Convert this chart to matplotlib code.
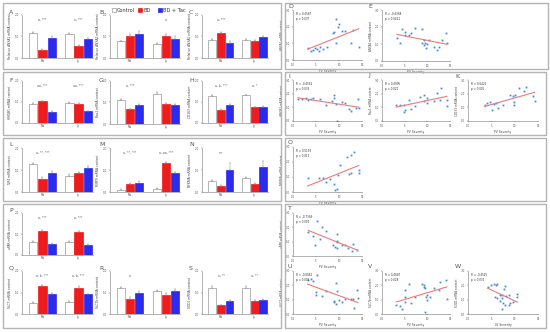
import numpy as np
import matplotlib
matplotlib.use("Agg")
import matplotlib.pyplot as plt
from matplotlib.patches import Rectangle

# bar panels: [Control, BD, BD + Tac] for the two cell groups
groups = ["Mo", "Ly"]
series = ["Control", "BD", "BD + Tac"]
colors = ["white", "#ee1c1c", "#2b2bee"]

A_mo = [1.15, 0.38, 0.95]; A_ly = [1.10, 0.57, 0.90]
B_mo = [0.77, 1.03, 1.12]; B_ly = [0.65, 1.00, 0.90]
C_mo = [0.82, 1.15, 0.72]; C_ly = [0.82, 0.80, 0.97]
F_mo = [0.92, 1.03, 0.54]; F_ly = [0.97, 0.92, 0.55]
G_mo = [1.10, 0.68, 0.88]; G_ly = [1.41, 0.93, 0.90]
H_mo = [1.28, 0.62, 0.85]; H_ly = [1.31, 0.74, 0.78]
L_mo = [1.26, 0.60, 0.88]; L_ly = [0.72, 0.85, 1.10]
M_mo = [0.10, 0.35, 0.41]; M_ly = [0.15, 1.30, 0.85]
N_mo = [0.49, 0.26, 1.00]; N_ly = [0.62, 0.38, 1.12]
P_mo = [0.62, 1.14, 0.52]; P_ly = [0.62, 1.10, 0.48]
Q_mo = [0.52, 1.29, 0.95]; Q_ly = [0.57, 1.22, 0.91]
R_mo = [1.23, 0.72, 0.98]; R_ly = [1.06, 0.88, 1.08]
S_mo = [1.23, 0.40, 0.60]; S_ly = [1.23, 0.62, 0.65]

A_err = [0.06, 0.03, 0.05]; B_err = [0.04, 0.10, 0.12]; C_err = [0.05, 0.06, 0.05]
F_err = [0.05, 0.03, 0.04]; G_err = [0.06, 0.04, 0.05]; H_err = [0.04, 0.03, 0.04]
L_err = [0.08, 0.06, 0.09]; M_err = [0.02, 0.05, 0.08]; N_err = [0.07, 0.05, 0.30]
P_err = [0.04, 0.06, 0.04]; Q_err = [0.03, 0.06, 0.04]; R_err = [0.04, 0.08, 0.07]
S_err = [0.06, 0.04, 0.05]

# significance marks above groups
A_sig = ["a, ***", "a, ***"]; B_sig = ["", "a"]; C_sig = ["a, ***", ""]
F_sig = ["aa, ***", "aa, ***"]; G_sig = ["a, ***", ""]; H_sig = ["a, b, ***", "a, *"]
L_sig = ["a, **, ***", ""]; M_sig = ["a, **, ***", "a, aa, ***"]; N_sig = ["***", ""]
P_sig = ["a, ***", "a, ***"]; Q_sig = ["a, b, ***", "a, b, ***"]; R_sig = ["a", ""]
S_sig = ["a, **", "a, **"]

# scatter panels (x = severity score, y = relative mRNA content)
D_x = [3.16, 3.82, 4.41, 5.15, 4.78, 5.74, 5.88, 6.47, 7.35, 8.68, 8.82, 9.41, 9.71, 9.93, 9.41, 10.66, 11.4, 12.65, 13.1, 14.3]
D_y = [0.74, 0.56, 0.60, 0.64, 0.74, 0.54, 0.80, 0.64, 0.80, 1.60, 1.66, 2.44, 2.00, 2.16, 1.04, 1.76, 1.76, 1.04, 1.80, 0.80]
E_x = [3.31, 3.9, 4.41, 5.0, 5.0, 5.88, 6.4, 7.2, 8.82, 9.19, 8.82, 9.34, 9.56, 9.71, 9.93, 10.3, 11.4, 12.1, 12.5, 13.2, 14.2, 14.3]
E_y = [1.38, 1.03, 1.86, 1.68, 1.52, 1.52, 1.62, 1.97, 1.91, 1.26, 1.03, 0.93, 1.03, 0.79, 0.99, 1.22, 0.83, 0.63, 0.83, 1.26, 1.66, 1.07]
I_x = [1.1, 2.06, 2.79, 3.31, 3.82, 4.41, 5.88, 7.13, 8.46, 8.82, 8.97, 9.41, 9.56, 10.66, 11.4, 12.1, 12.6, 13.6, 14.1, 14.3]
I_y = [1.61, 1.61, 1.66, 1.54, 1.61, 1.66, 1.61, 1.17, 1.46, 1.66, 1.90, 1.22, 0.0, 1.41, 1.29, 0.88, 0.73, 0.93, 1.61, 0.98]
J_x = [3.16, 3.9, 4.78, 5.0, 4.93, 5.88, 6.4, 7.2, 8.46, 9.19, 9.34, 9.93, 9.93, 11.4, 12.1, 12.9, 13.1, 14.3, 14.3]
J_y = [1.15, 1.20, 1.15, 0.84, 0.67, 1.51, 0.91, 1.13, 1.73, 1.92, 1.49, 1.68, 1.32, 1.44, 2.04, 1.56, 2.45, 1.56, 1.08]
K_x = [3.57, 4.07, 4.64, 5.14, 5.5, 5.93, 6.43, 7.5, 8.93, 9.64, 9.79, 10.0, 10.9, 12.1, 12.5, 13.9, 14.3, 9.79]
K_y = [1.15, 1.32, 1.39, 0.77, 1.25, 1.32, 0.96, 1.15, 1.92, 1.80, 1.15, 1.87, 2.45, 2.21, 2.52, 1.80, 1.49, 1.39]
O_x = [3.16, 5.74, 6.47, 7.2, 7.94, 8.97, 9.19, 9.56, 9.71, 12.1, 12.6, 14.3, 14.3, 10.3, 11.8, 13.2, 12.5]
O_y = [0.96, 0.92, 0.96, 0.69, 0.86, 0.54, 0.15, 0.21, 1.14, 1.18, 1.29, 1.29, 1.44, 1.82, 2.36, 2.68, 2.46]
T_x = [5.15, 3.33, 6.24, 7.1, 9.63, 4.42, 5.87, 9.5, 9.63, 4.78, 8.6, 9.13, 9.5, 10.6, 11.3, 12.0, 13.0, 14.0, 12.8]
T_y = [2.44, 1.70, 2.05, 1.77, 1.53, 1.42, 1.19, 1.05, 0.95, 0.77, 0.77, 0.65, 0.58, 0.77, 0.77, 0.58, 0.82, 0.42, 0.35]
U_x = [3.16, 3.82, 4.41, 5.15, 5.0, 5.0, 6.25, 7.13, 9.41, 9.56, 8.82, 8.97, 9.41, 9.93, 10.66, 11.4, 12.65, 13.1, 13.97, 14.1, 13.2]
U_y = [2.35, 2.42, 2.28, 2.70, 1.55, 1.36, 1.27, 1.59, 2.19, 1.59, 0.90, 0.81, 0.67, 0.97, 0.81, 1.04, 1.08, 1.02, 1.66, 1.13, 0.44]
V_x = [3.16, 3.9, 4.41, 5.0, 5.0, 5.0, 5.88, 6.4, 7.2, 8.82, 9.19, 9.34, 9.56, 9.71, 9.93, 9.93, 10.66, 11.4, 9.56, 12.5, 12.9, 14.2, 14.3]
V_y = [0.62, 0.58, 0.35, 0.81, 1.20, 1.66, 2.12, 0.74, 1.20, 2.12, 2.05, 1.89, 1.78, 1.20, 0.97, 1.36, 1.20, 1.82, 0.12, 1.66, 2.24, 2.40, 1.08]
W_x = [4.19, 4.88, 5.58, 5.93, 6.14, 5.79, 6.14, 6.77, 6.77, 7.19, 7.33, 7.47, 7.67, 7.88, 8.02, 8.23, 8.72, 8.86, 9.07, 9.56, 10.5, 10.6, 7.19]
W_y = [1.89, 2.05, 2.12, 2.05, 2.12, 1.20, 1.13, 1.36, 0.90, 1.36, 1.13, 0.74, 1.73, 1.96, 0.62, 1.27, 1.36, 0.62, 0.74, 0.85, 1.43, 1.20, 0.35]

D_stat = ["R = 0.4587", "p = 0.037"]; E_stat = ["R = -0.4368", "p = 0.0421"]
I_stat = ["R = -0.4562", "p = 0.033"]; J_stat = ["R = 0.4905", "p = 0.021"]
K_stat = ["R = 0.6421", "p = 0.001"]; O_stat = ["R = 0.5193", "p = 0.013"]
T_stat = ["R = -0.7369", "p < 0.001"]; U_stat = ["R = -0.6042", "p = 0.003"]
V_stat = ["R = 0.4687", "p = 0.028"]; W_stat = ["R = -0.4525", "p = 0.035"]

W_FIG, H_FIG = 550, 332
fig = plt.figure(figsize=(5.5, 3.32), dpi=100)
fig.patch.set_facecolor("white")

def px_axes(x0, y0, x1, y1):
    return fig.add_axes([x0 / W_FIG, 1 - y1 / H_FIG, (x1 - x0) / W_FIG, (y1 - y0) / H_FIG])

def frame(x0, y0, x1, y1):
    fig.add_artist(Rectangle((x0 / W_FIG, 1 - y1 / H_FIG), (x1 - x0) / W_FIG, (y1 - y0) / H_FIG,
                             transform=fig.transFigure, fill=False, ec="#b4b4b4", lw=1.0))

def letter(x, y, s):
    fig.text(x / W_FIG, 1 - y / H_FIG, s, fontsize=4.5, color="#555555", ha="left", va="center")

def style(ax):
    for k in ["top", "right"]:
        ax.spines[k].set_visible(False)
    for k in ["left", "bottom"]:
        ax.spines[k].set_linewidth(0.4)
        ax.spines[k].set_color("#777777")
    ax.tick_params(length=1, width=0.3, labelsize=2, pad=1, colors="#555555")
    ax.set_facecolor("white")

def bar_panel(box, mo, ly, err, sig, label):
    ax = px_axes(*box)
    pos1 = [0, 1, 2]
    pos2 = [3.9, 4.9, 5.9]
    for vals, pos in [(mo, pos1), (ly, pos2)]:
        for i in range(3):
            ax.bar(pos[i], vals[i], width=0.9, color=colors[i],
                   edgecolor="#999999" if i == 0 else colors[i], linewidth=0.5)
            ax.errorbar(pos[i], vals[i], yerr=[[0], [err[i]]], fmt="none",
                        ecolor="#888888", elinewidth=0.35, capsize=0.6, capthick=0.35)
    for s, c in zip(sig, [1, 4.9]):
        if s:
            ax.text(c, 1.75, s, fontsize=2.2, ha="center", va="center", color="#555555")
    ax.set_xlim(-1.2, 6.45)
    ax.set_ylim(0, 2)
    ax.set_yticks([0, 1, 2])
    ax.set_yticklabels(["0.0", "1.0", "2.0"])
    ax.set_xticks([1, 4.9])
    ax.set_xticklabels(groups)
    ax.set_ylabel(label, fontsize=2.2, labelpad=2, color="#444444")
    style(ax)
    ax.tick_params(axis="x", length=0)
    return ax

def scatter_panel(box, x, y, stat, ylabel, xlabel="PV Severity"):
    ax = px_axes(*box)
    ax.plot(x, y, "s", ms=1.3, color="#4a8ad4", mew=0)
    k, b = np.polyfit(x, y, 1)
    xs = np.array([min(x), max(x)])
    ax.plot(xs, k * xs + b, color="#f07878", lw=0.8)
    ax.text(0.04, 0.96, stat[0] + "\n" + stat[1], transform=ax.transAxes,
            fontsize=2, va="top", ha="left", color="#333333", linespacing=1.3)
    ax.set_xlim(0, 15)
    ax.set_ylim(0, 3)
    ax.set_xticks([0, 5, 10, 15])
    ax.set_xticklabels(["0.0", "5", "10", "15"])
    ax.set_yticks([0, 1, 2, 3])
    ax.set_yticklabels(["0.0", "1.0", "2.0", "3.0"])
    ax.set_xlabel(xlabel, fontsize=2.2, labelpad=1.5, color="#444444")
    ax.set_ylabel(ylabel, fontsize=2, labelpad=1.5, color="#444444")
    style(ax)
    return ax

# outer frames
frame(3, 3, 281, 69); frame(285, 3, 548, 69)
frame(3, 72, 281, 135); frame(285, 72, 546, 135)
frame(3, 138, 281, 201); frame(285, 138, 546, 201)
frame(3, 204, 281, 328); frame(285, 204, 546, 328)

# legend (row 1)
leg_x = [112, 138, 158]
for lx, name, c in zip(leg_x, series, colors):
    fig.add_artist(Rectangle((lx / W_FIG, 1 - 12 / H_FIG), 4 / W_FIG, 4 / H_FIG,
                             transform=fig.transFigure, fc=c, ec="#999999" if c == "white" else c, lw=0.5))
    fig.text((lx + 5) / W_FIG, 1 - 10 / H_FIG, name, fontsize=3.6, va="center", ha="left", color="#333333")

# row 1
bar_panel((22, 15, 93, 58), A_mo, A_ly, A_err, A_sig, "Relative ANXA1 mRNA content"); letter(9, 12, "A")
bar_panel((110, 15, 180, 58), B_mo, B_ly, B_err, B_sig, "Relative ANXA2 mRNA content"); letter(99, 12, "B")
bar_panel((202, 15, 268, 58), C_mo, C_ly, C_err, C_sig, "Relative ANXA5 mRNA content"); letter(189, 12, "C")
scatter_panel((293, 10, 362, 60), D_x, D_y, D_stat, "ANXA1 mRNA content"); letter(288, 7, "D")
scatter_panel((382, 10, 450, 61), E_x, E_y, E_stat, "ANXA2 mRNA content"); letter(368, 7, "E")

# row 2
bar_panel((22, 81, 93, 123), F_mo, F_ly, F_err, F_sig, "HMGB1 mRNA content"); letter(9, 80, "F")
bar_panel((110, 81, 180, 124), G_mo, G_ly, G_err, G_sig, "Rac1 mRNA content"); letter(99, 80, "G")
bar_panel((202, 81, 268, 123), H_mo, H_ly, H_err, H_sig, "CD163 mRNA content"); letter(189, 80, "H")
scatter_panel((293, 80, 362, 121), I_x, I_y, I_stat, "HMGB1 mRNA content"); letter(288, 76, "I")
scatter_panel((382, 80, 450, 121), J_x, J_y, J_stat, "Rac1 mRNA content"); letter(368, 76, "J")
scatter_panel((468, 80, 538, 121), K_x, K_y, K_stat, "CD163 mRNA content"); letter(455, 76, "K")

# row 3
bar_panel((22, 148, 93, 192), L_mo, L_ly, L_err, L_sig, "TLR4 mRNA content"); letter(9, 145, "L")
bar_panel((110, 148, 180, 192), M_mo, M_ly, M_err, M_sig, "MMP9 mRNA content"); letter(99, 145, "M")
bar_panel((202, 148, 268, 192), N_mo, N_ly, N_err, N_sig, "NFKBIA mRNA content"); letter(189, 145, "N")
scatter_panel((293, 147, 362, 192), O_x, O_y, O_stat, "NFKBIA mRNA content"); letter(288, 143, "O")

# row 4
bar_panel((22, 213, 93, 255), P_mo, P_ly, P_err, P_sig, "uPAR mRNA content"); letter(9, 211, "P")
bar_panel((22, 271, 93, 314), Q_mo, Q_ly, Q_err, Q_sig, "SLC7 mRNA content"); letter(9, 268, "Q")
bar_panel((110, 271, 180, 314), R_mo, R_ly, R_err, R_sig, "SLC7b mRNA content"); letter(99, 268, "R")
bar_panel((202, 271, 268, 314), S_mo, S_ly, S_err, S_sig, "SOD1 mRNA content"); letter(189, 268, "S")
scatter_panel((293, 213, 362, 256), T_x, T_y, T_stat, "uPAR mRNA content"); letter(288, 208, "T")
scatter_panel((293, 271, 362, 314), U_x, U_y, U_stat, "SLC7 mRNA content"); letter(288, 266, "U")
scatter_panel((382, 271, 450, 314), V_x, V_y, V_stat, "SLC7b mRNA content"); letter(368, 266, "V")
scatter_panel((468, 271, 538, 314), W_x, W_y, W_stat, "SOD1 mRNA content", "LV Severity"); letter(455, 266, "W")

fig.savefig("out.png", dpi=100, facecolor="white")
